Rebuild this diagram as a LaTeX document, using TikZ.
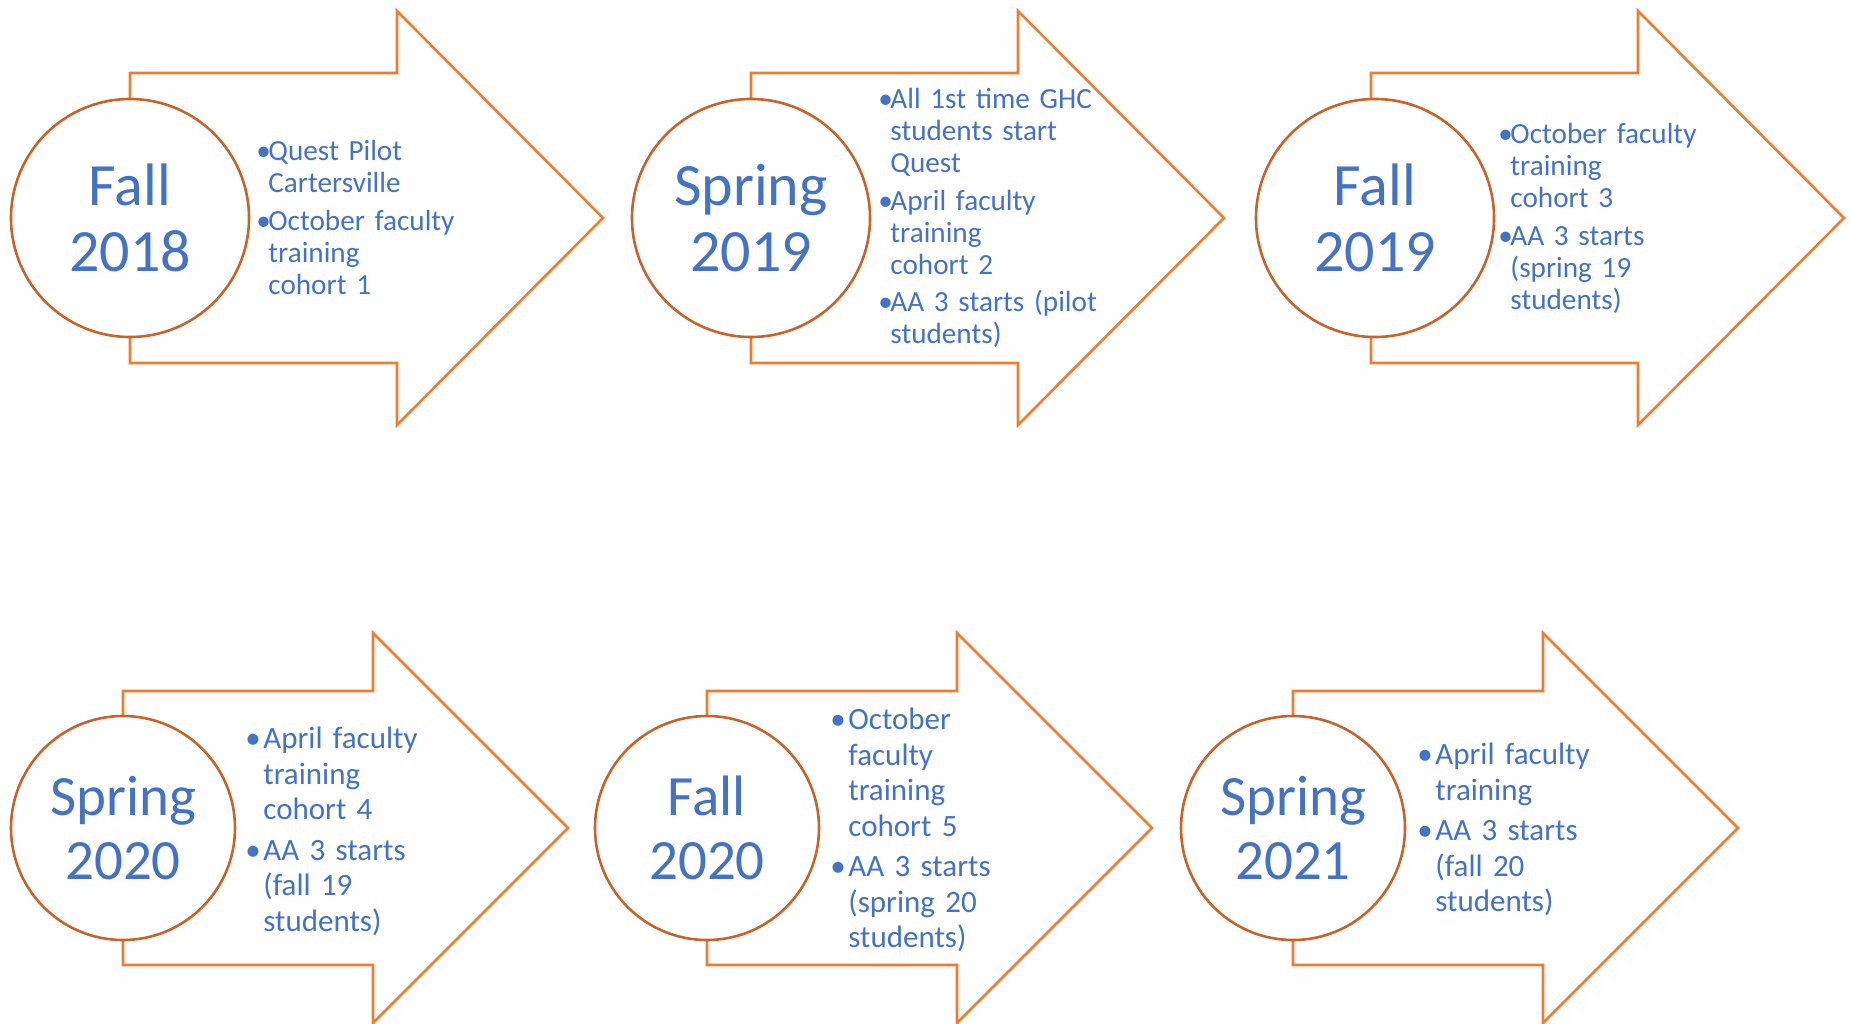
\documentclass[tikz,border=0pt]{standalone}
\usepackage{fontspec}
\setmainfont{Carlito}
\definecolor{qblue}{HTML}{4472C4}
\definecolor{qorange}{HTML}{ED7D31}
\definecolor{qrust}{HTML}{C8642A}
\newlength\bulw
\newcommand{\bitem}[1]{\par\hangindent=\bulw\hangafter=1\noindent\strut\makebox[\bulw][l]{\textbullet}#1\par}

\begin{document}
\begin{tikzpicture}[x=0.5pt, y=-0.5pt,
arrowline/.style = {draw=qorange, line width=1.3pt, fill=white},
term/.style = {circle, draw=qrust, line width=1.3pt, fill=white, text=qblue, align=center, inner sep=0pt},
bigterm/.style = {term, minimum size=119pt, font=\fontsize{30}{33}\selectfont},
smallterm/.style = {term, minimum size=112pt, font=\fontsize{28.5}{32}\selectfont},
notes/.style = {anchor=north west, inner sep=0pt, text width=130pt, align=left, text=qblue},
topnotes/.style = {notes, font=\fontsize{14.6}{16}\selectfont\setlength\parskip{2.9pt}\setlength\bulw{6pt}},
lownotes/.style = {notes, font=\fontsize{15.5}{17.75}\selectfont\setlength\parskip{2.5pt}\setlength\bulw{9pt}}]
\fill[white] (0,0) rectangle (1851,1023);
\useasboundingbox (0,0) rectangle (1851,1023);

\draw[arrowline] (130,73) -- ++(267,0) -- ++(0,-62) -- ++(206,207) -- ++(-206,207) -- ++(0,-62) -- ++(-267,0) -- cycle;
\draw[arrowline] (751,73) -- ++(267,0) -- ++(0,-62) -- ++(206,207) -- ++(-206,207) -- ++(0,-62) -- ++(-267,0) -- cycle;
\draw[arrowline] (1371,73) -- ++(267,0) -- ++(0,-62) -- ++(206,207) -- ++(-206,207) -- ++(0,-62) -- ++(-267,0) -- cycle;
\draw[arrowline] (123,691) -- ++(250,0) -- ++(0,-58) -- ++(195,195) -- ++(-195,195) -- ++(0,-58) -- ++(-250,0) -- cycle;
\draw[arrowline] (707,691) -- ++(250,0) -- ++(0,-58) -- ++(195,195) -- ++(-195,195) -- ++(0,-58) -- ++(-250,0) -- cycle;
\draw[arrowline] (1293,691) -- ++(250,0) -- ++(0,-58) -- ++(195,195) -- ++(-195,195) -- ++(0,-58) -- ++(-250,0) -- cycle;

\node[bigterm] (fall18) at (130,218) {Fall\\2018};
\node[bigterm] (spring19) at (751,218) {Spring\\2019};
\node[bigterm] (fall19) at (1375,218) {Fall\\2019};
\node[smallterm] (spring20) at (123,828) {Spring\\2020};
\node[smallterm] (fall20) at (707,828) {Fall\\2020};
\node[smallterm] (spring21) at (1293,828) {Spring\\2021};

\node[topnotes] (notes18) at (256,122) {\bitem{Quest Pilot\newline Cartersville}\bitem{October faculty\newline training\newline cohort 1}};
\node[topnotes] (notes19a) at (878,70) {\bitem{All 1st time GHC\newline students start\newline Quest}\bitem{April faculty\newline training\newline cohort 2}\bitem{AA 3 starts (pilot\newline students)}};
\node[topnotes] (notes19b) at (1498,105) {\bitem{October faculty\newline training\newline cohort 3}\bitem{AA 3 starts\newline (spring 19\newline students)}};
\node[lownotes] (notes20a) at (245,708) {\bitem{April faculty\newline training\newline cohort 4}\bitem{AA 3 starts\newline (fall 19\newline students)}};
\node[lownotes] (notes20b) at (830,689) {\bitem{October\newline faculty\newline training\newline cohort 5}\bitem{AA 3 starts\newline (spring 20\newline students)}};
\node[lownotes] (notes21) at (1417,724) {\bitem{April faculty\newline training}\bitem{AA 3 starts\newline (fall 20\newline students)}};
\end{tikzpicture}
\end{document}
